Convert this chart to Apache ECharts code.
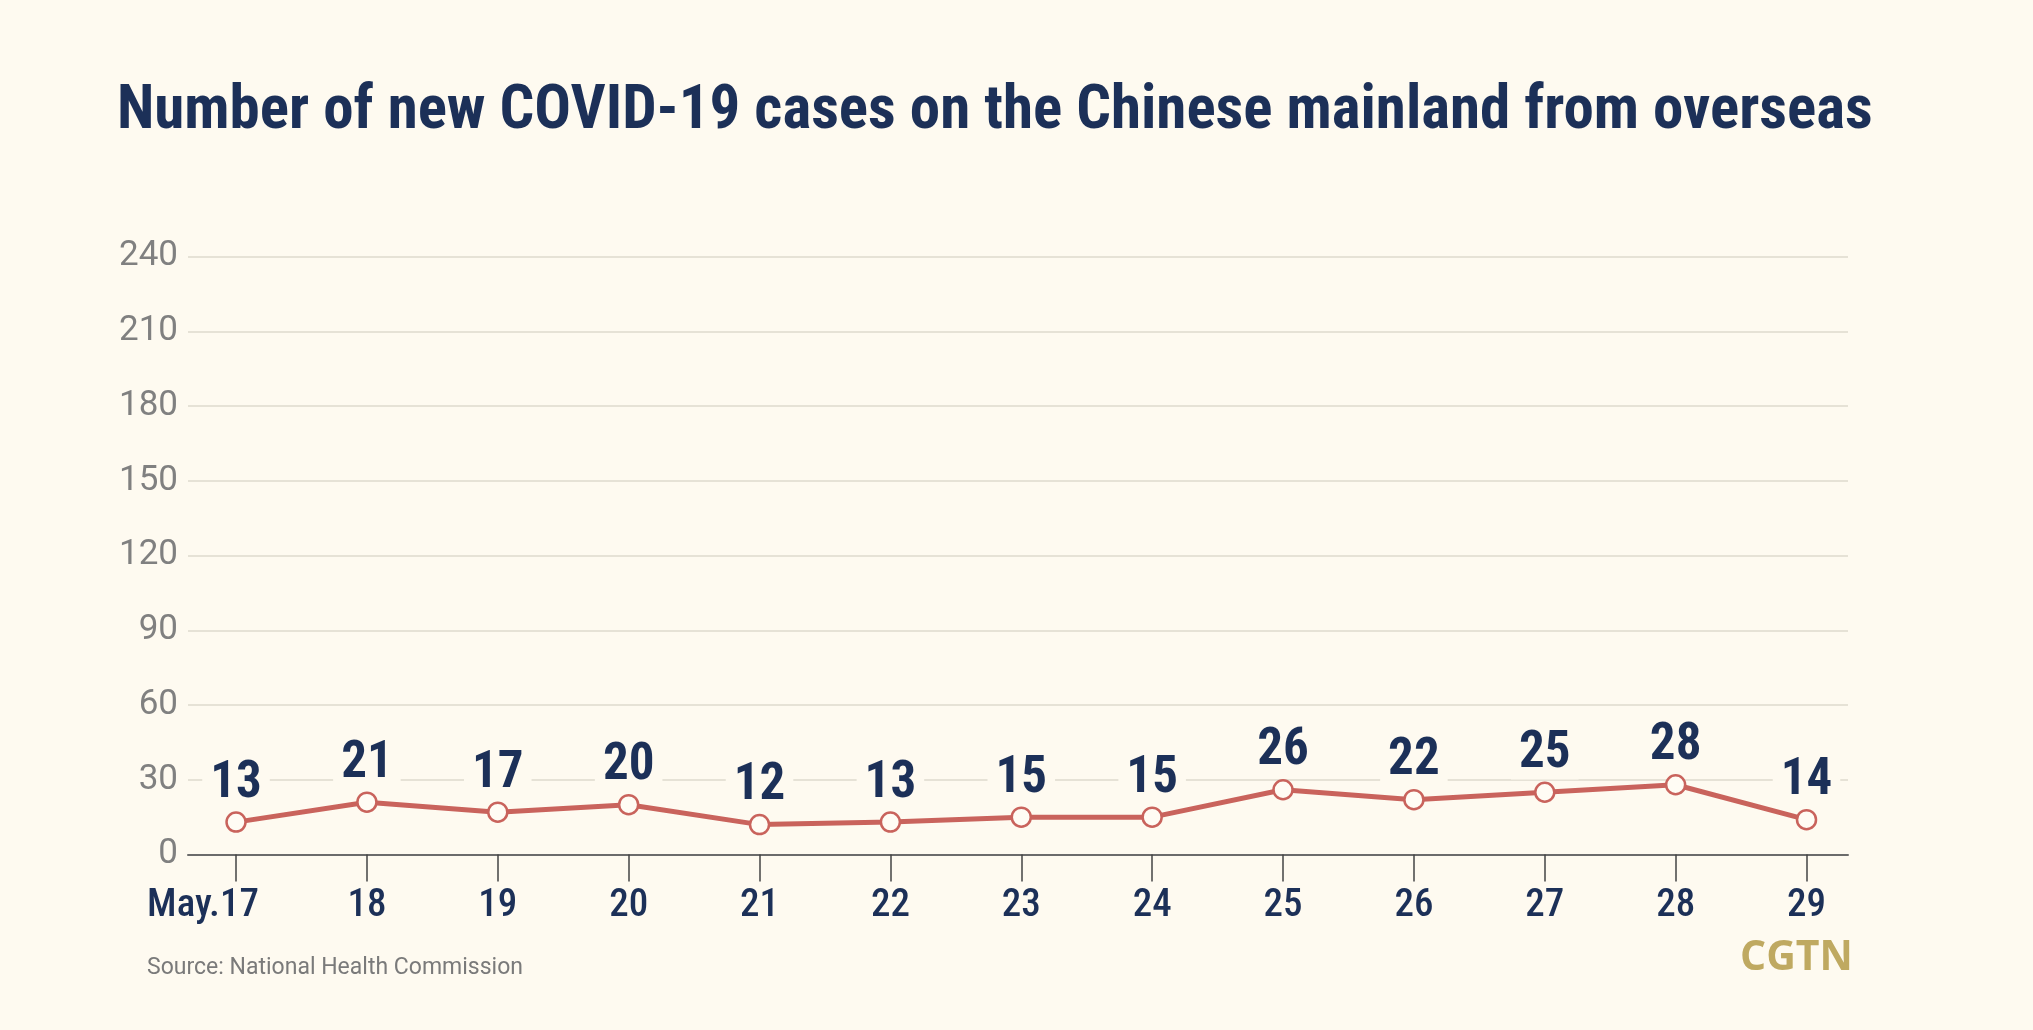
<!DOCTYPE html>
<html>
<head>
<meta charset="utf-8">
<script src="https://cdn.jsdelivr.net/npm/echarts@6/dist/echarts.min.js"></script>
<style>
html,body{margin:0;padding:0;background:#FEFAF0;}
#chart{width:2033px;height:1030px;}
</style>
</head>
<body>
<div id="chart"></div>
<script>
const categories = ['May.17','18','19','20','21','22','23','24','25','26','27','28','29'];
const cases = [13,21,17,20,12,13,15,15,26,22,25,28,14];
const yTicks = [0,30,60,90,120,150,180,210,240];

const BG = '#FEFAF0';
const NAVY = '#1C3058';
const RED = '#C9635C';
const FONT = "'Liberation Sans Narrow','Roboto Condensed','DejaVu Sans Condensed','Roboto',sans-serif";
const FONT2 = "'Roboto','Noto Sans',sans-serif";

const chart = echarts.init(document.getElementById('chart'));
const idx = categories.map((c,i)=>i);
chart.setOption({
  animation:false,
  backgroundColor: BG,
  title:{
    text:'Number of new COVID-19 cases on the Chinese mainland from overseas',
    left:112, top:77,
    textStyle:{fontFamily:FONT,fontSize:61,fontWeight:'bold',color:NAVY}
  },
  grid:{left:188,right:185,top:256.7,bottom:175.5,containLabel:false},
  xAxis:{
    type:'value',
    min:-0.367, max:12.317,
    axisLine:{show:true,lineStyle:{color:'#6b6b6b',width:2}},
    axisTick:{show:true,customValues:idx,length:27,lineStyle:{color:'#444',width:1.5}},
    axisLabel:{show:true,customValues:idx,
      formatter:v=>{const i=Math.round(v);return i===0?categories[i]+'{sp|}':categories[i];},
      rich:{sp:{width:66}},
      fontFamily:FONT,fontSize:39,color:NAVY,margin:32,fontWeight:500},
    splitLine:{show:false}
  },
  yAxis:{
    type:'value',
    min:yTicks[0], max:yTicks[yTicks.length-1], interval:30,
    axisLine:{show:false},axisTick:{show:false},
    axisLabel:{fontFamily:FONT2,fontSize:35,color:'#808080',margin:10},
    splitLine:{show:true,lineStyle:{color:'#E6E2D6',width:2}}
  },
  series:[{
    type:'line',
    data: cases.map((v,i)=>[i,v]),
    lineStyle:{color:RED,width:5},
    symbol:'circle',symbolSize:19,
    itemStyle:{color:'#FFFCF4',borderColor:RED,borderWidth:2.5},
    label:{show:true,position:'top',distance:2,
      fontFamily:FONT,fontSize:51,fontWeight:'bold',color:NAVY,
      backgroundColor:BG,padding:[0,8,0,8]},
    z:3
  }],
  graphic:[
    {type:'text',left:147,top:957,style:{text:'Source: National Health Commission',
      font:"23px "+FONT2,fill:'#7a7a7a'}},
    {type:'text',left:1740,top:938,style:{text:'CGTN',
      font:"bold 41px 'Open Sans','Lato',sans-serif",fill:'#BFA961'}}
  ]
});
</script>
</body>
</html>
